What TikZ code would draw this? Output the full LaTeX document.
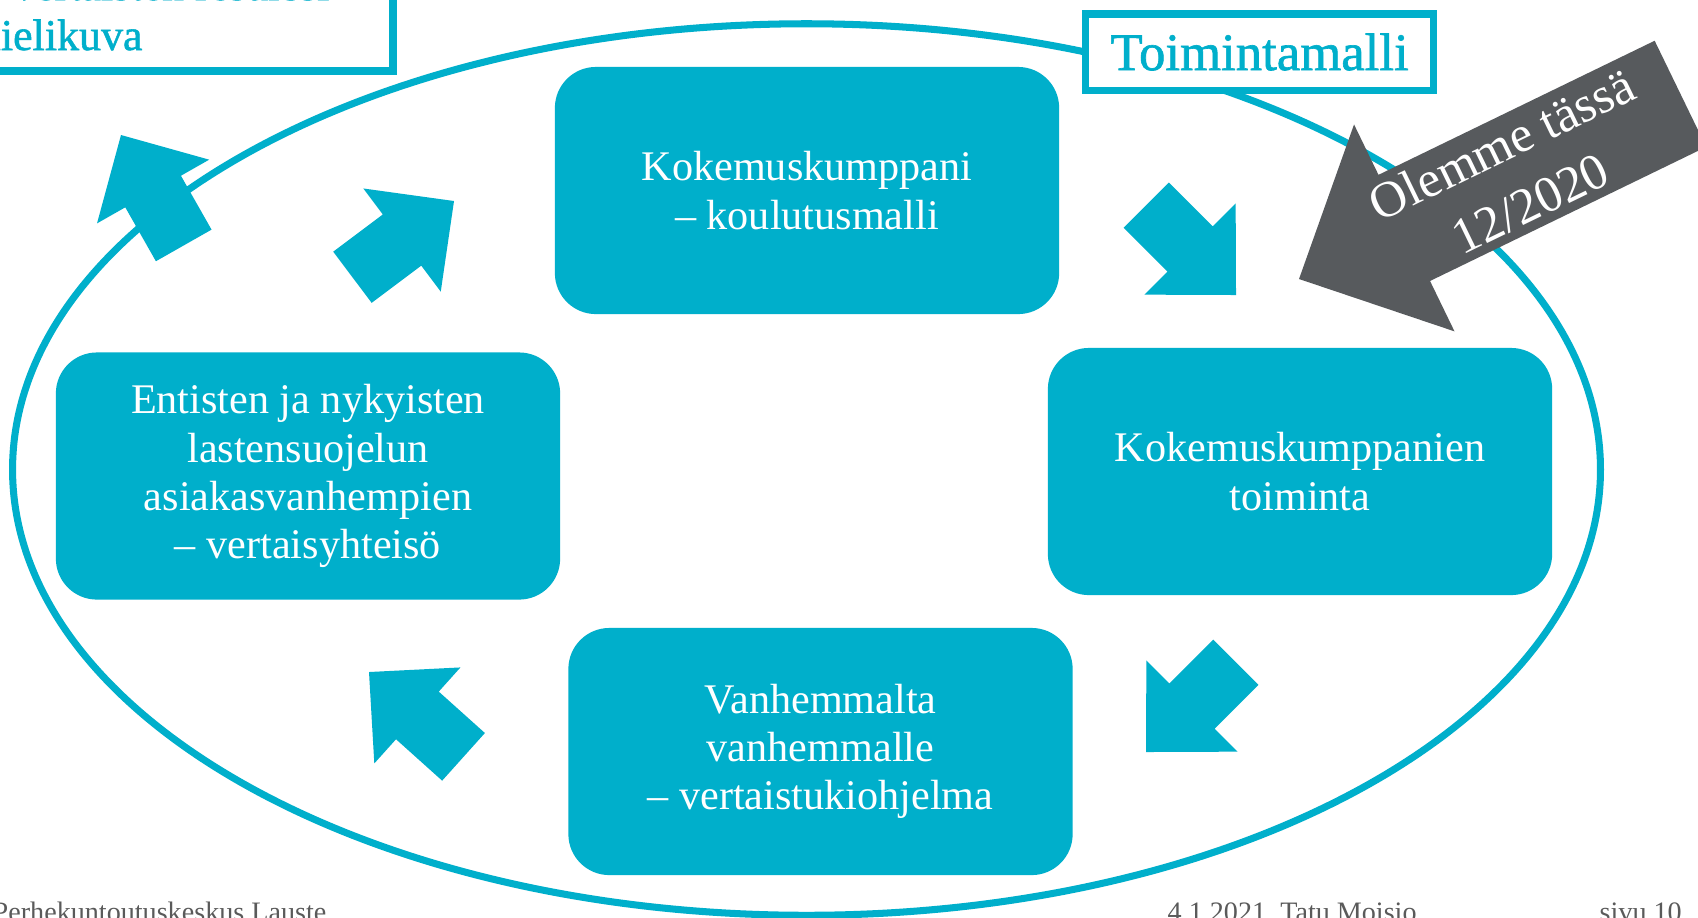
\documentclass[tikz,border=0pt]{standalone}
\usepackage{fontspec}
\setmainfont{Liberation Serif}
\newfontfamily\semib[FakeBold=1.2]{Liberation Serif}
\definecolor{cyanc}{RGB}{0,175,203}
\definecolor{greyarrow}{RGB}{87,90,93}
\definecolor{footgrey}{RGB}{90,90,90}
\tikzset{
  stepbox/.style={fill=cyanc, rounded corners=0.41cm, minimum width=5.04cm, minimum height=2.47cm,
    text=white, align=center, font=\fontsize{12}{13.7}\selectfont, inner sep=0pt},
  ringline/.style={draw=cyanc, line width=2pt},
  footer/.style={anchor=base west, text=footgrey, font=\fontsize{8}{9}\selectfont, inner sep=0pt},
  pics/barrow/.style={code={
    \fill[cyanc] (0,0) -- (-65,64.5) -- (-65,32) -- (-127,32) -- (-127,-32) -- (-65,-32) -- (-65,-64.5) -- cycle;}}
}
\begin{document}
\begin{tikzpicture}[x=0.01cm,y=-0.01cm]
\useasboundingbox (0,0) rectangle (1698,917);
\clip (0,0) rectangle (1698,917);
\fill[white] (0,0) rectangle (1698,917);
% ring
\draw[ringline] (806.5,469.5) ellipse [x radius=7.935cm, y radius=4.455cm];
% title box top-left
\draw[cyanc, line width=2pt, fill=white] (-20,-20) rectangle (393,71);
\node[anchor=base east, text=cyanc, font=\semib\fontsize{12.5}{15}\selectfont, inner sep=0pt] (t1) at (330,0) {vertaisten resurssi};
\node[anchor=base west, text=cyanc, font=\semib\fontsize{12.5}{15}\selectfont, inner sep=0pt] (t2) at (-34,50) {mielikuva};
% Toimintamalli label
\node[draw=cyanc, line width=2pt, fill=white, minimum width=3.47cm, minimum height=0.76cm,
  text=cyanc, font=\semib\fontsize{15}{18}\selectfont] (tm) at (1259.5,52) {Toimintamalli};
% boxes
\node[stepbox] (top) at (807,190.5) {Kokemuskumppani\\– koulutusmalli};
\node[stepbox] (right) at (1300,471.5) {Kokemuskumppanien\\toiminta};
\node[stepbox] (bottom) at (820.5,751.5) {Vanhemmalta\\vanhemmalle\\– vertaistukiohjelma};
\node[stepbox] (left) at (308,476) {Entisten ja nykyisten\\lastensuojelun\\asiakasvanhempien\\– vertaisyhteisö};
% cyan arrows
\pic (a1) [rotate=119.6] at (121,135) {barrow};
\pic (a2) [rotate=36.9] at (454,201) {barrow};
\pic (a4) [rotate=-45] at (1236,295) {barrow};
\pic (a5) [rotate=-135] at (1146,752) {barrow};
\pic (a3) [rotate=138.1] at (369,672) {barrow};
% grey arrow
\begin{scope}[shift={(1299,279)}, rotate=25.9]
\fill[greyarrow] (0,0) -- (117,-115) -- (117,-59) -- (424,-59) -- (424,59) -- (117,59) -- (117,115) -- cycle;
\node[text=white, rotate=25.9, align=center, font=\fontsize{14.5}{18.6}\selectfont] (here) at (241,0) {Olemme tässä\\12/2020};
\end{scope}
% footer
\node[footer] (f1) at (-8,921) {Perhekuntoutuskeskus Lauste};
\node[footer] (f2) at (1167,921) {4.1.2021\enspace Tatu Moisio};
\node[footer] (f3) at (1599,921) {sivu 10};
\end{tikzpicture}
\end{document}
